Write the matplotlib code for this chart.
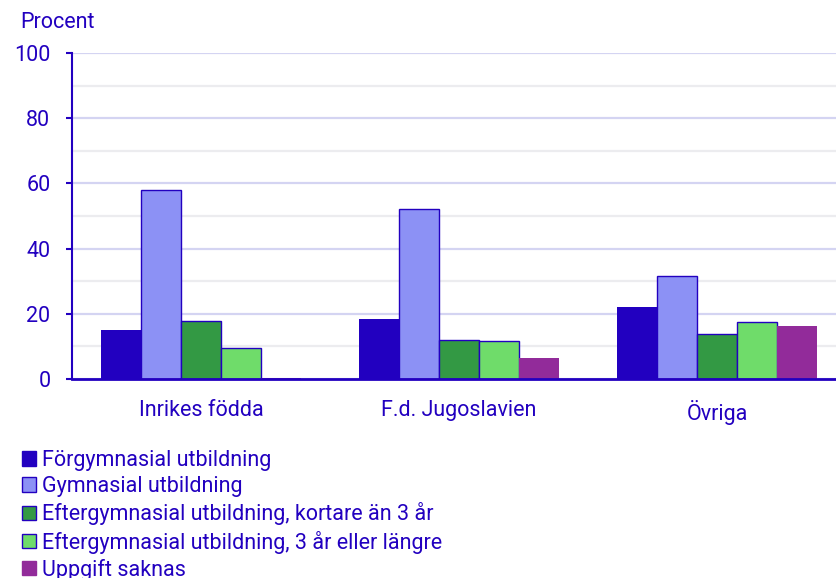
import numpy as np
import matplotlib
matplotlib.use('Agg')
import matplotlib.pyplot as plt
from matplotlib.patches import Patch

plt.rcParams['font.family'] = ['Roboto', 'DejaVu Sans']

# data
groups = ['Inrikes födda', 'F.d. Jugoslavien', 'Övriga']
series = ['Förgymnasial utbildning',
          'Gymnasial utbildning',
          'Eftergymnasial utbildning, kortare än 3 år',
          'Eftergymnasial utbildning, 3 år eller längre',
          'Uppgift saknas']
forgymnasial = [15.0, 18.4, 22.1]
gymnasial = [58.0, 52.1, 31.6]
kort_efter = [17.8, 12.0, 13.8]
lang_efter = [9.5, 11.7, 17.5]
saknas = [0.2, 6.4, 16.3]

values = [forgymnasial, gymnasial, kort_efter, lang_efter, saknas]
colors = ['#2200c0', '#8c91f5', '#339944', '#6fdc6a', '#922b9a']
edges = ['none', '#2200c0', '#2200c0', '#2200c0', 'none']
text_col = '#2200c0'
fs = 15.5

fig = plt.figure(figsize=(8.37, 5.78), dpi=100)
ax = fig.add_axes([72 / 837, 1 - 379 / 578, 765 / 837, 326 / 578])

x = np.arange(len(groups))
w = 0.155
for i, (vals, c, ec) in enumerate(zip(values, colors, edges)):
    ax.bar(x + (i - 2) * w, vals, width=w, color=c, edgecolor=ec,
           linewidth=1.0, zorder=3)

ax.set_xlim(-0.5, -0.5 + 765 / 258)
ax.set_ylim(0, 100)
ax.set_yticks(range(0, 101, 20))
ax.set_yticks(range(10, 100, 20), minor=True)
ax.yaxis.grid(True, which='major', color='#d4d4f2', linewidth=1.6, zorder=0)
ax.yaxis.grid(True, which='minor', color='#ececef', linewidth=1.6, zorder=0)
ax.tick_params(axis='y', which='minor', length=0)
ax.tick_params(axis='y', which='major', colors=text_col, labelsize=fs,
               length=4.5, width=1.5, pad=11, labelcolor=text_col)
ax.set_xticks(x)
ax.set_xticklabels(groups)
ax.tick_params(axis='x', length=0, labelsize=fs, labelcolor=text_col, pad=15)

for s in ['top', 'right']:
    ax.spines[s].set_visible(False)
ax.spines['left'].set_color(text_col)
ax.spines['left'].set_linewidth(1.5)
ax.spines['bottom'].set_color(text_col)
ax.spines['bottom'].set_linewidth(2)
ax.spines['bottom'].set_zorder(4)

fig.text(20 / 837, 1 - 22 / 578, 'Procent', color=text_col, fontsize=fs,
         ha='left', va='center')

handles = [Patch(facecolor=c, edgecolor=(ec if ec != 'none' else c), linewidth=1.0)
           for c, ec in zip(colors, edges)]
leg = fig.legend(handles, series, loc='upper left',
                 bbox_to_anchor=(22 / 837, 1 - 450 / 578), frameon=False,
                 fontsize=fs, handlelength=0.65, handleheight=0.65,
                 handletextpad=0.3, labelspacing=0.24, borderpad=0,
                 borderaxespad=0)
for t in leg.get_texts():
    t.set_color(text_col)

fig.savefig('out.png', dpi=100)
